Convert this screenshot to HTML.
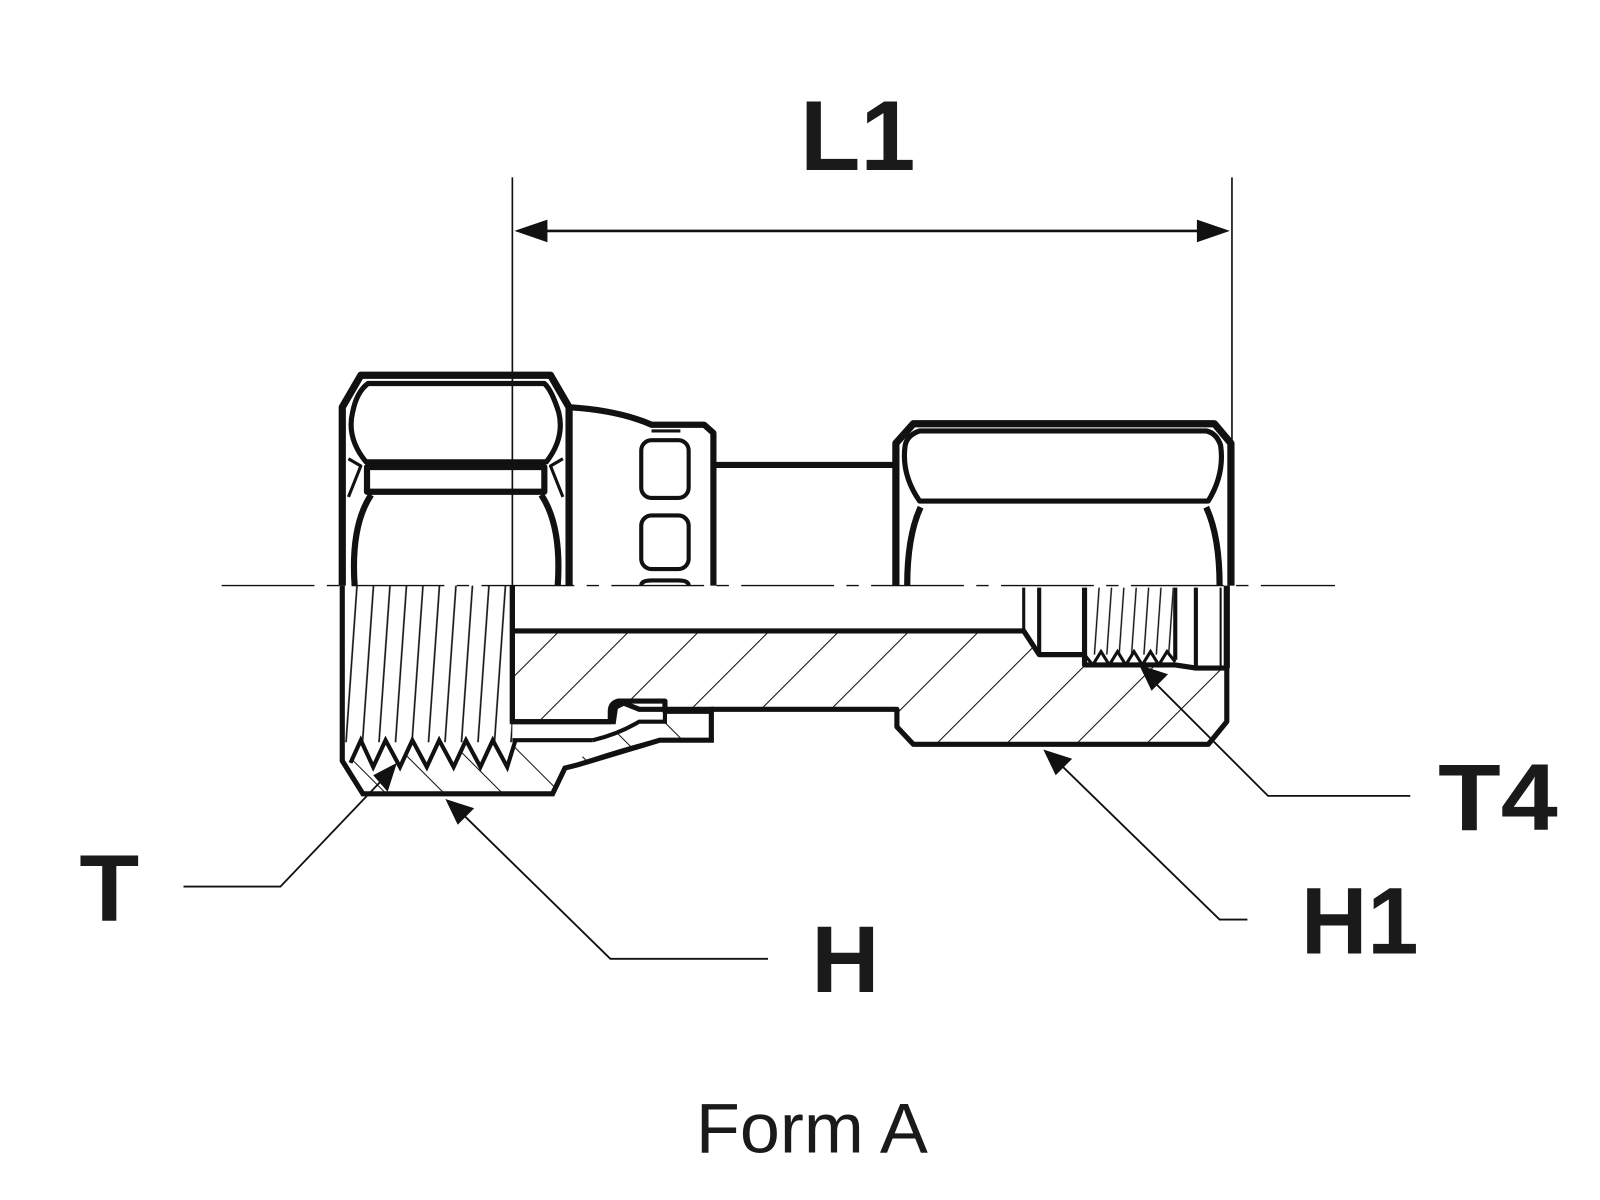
<!DOCTYPE html>
<html><head><meta charset="utf-8"><style>
html,body{margin:0;padding:0;background:#fff;}
svg{display:block;}
</style></head><body>
<svg width="1600" height="1200" viewBox="0 0 1552 1164" xmlns="http://www.w3.org/2000/svg">
<defs>
<pattern id="hatch" patternUnits="userSpaceOnUse" width="48" height="48" patternTransform="rotate(45)">
<line x1="0" y1="0" x2="0" y2="48" stroke="#111" stroke-width="2"/>
</pattern>
<pattern id="hatch2" patternUnits="userSpaceOnUse" width="40" height="40" patternTransform="rotate(-45)">
<line x1="0" y1="0" x2="0" y2="40" stroke="#111" stroke-width="2"/>
</pattern>
<pattern id="thr" patternUnits="userSpaceOnUse" width="16" height="200" patternTransform="skewX(-4)">
<line x1="2" y1="0" x2="2" y2="200" stroke="#111" stroke-width="1.6"/>
</pattern>
<pattern id="thr2" patternUnits="userSpaceOnUse" width="12" height="200" patternTransform="skewX(-4)">
<line x1="2" y1="0" x2="2" y2="200" stroke="#111" stroke-width="1.4"/>
</pattern>
</defs>
<rect width="1552" height="1164" fill="#fff"/>

<text x="832" y="165" font-family="Liberation Sans, sans-serif" font-weight="bold" font-size="96" text-anchor="middle" fill="#1a1a1a">L1</text>
<line x1="497" y1="172" x2="497" y2="568" stroke="#111" stroke-width="1.6"/>
<line x1="1195" y1="172" x2="1195" y2="568" stroke="#111" stroke-width="1.6"/>
<line x1="520" y1="224" x2="1172" y2="224" stroke="#111" stroke-width="2.5"/>
<polygon points="499,224 531,213 531,235" fill="#111"/>
<polygon points="1193,224 1161,213 1161,235" fill="#111"/>

<line x1="215" y1="568" x2="1295" y2="568" stroke="#111" stroke-width="1.4" stroke-dasharray="90,12,12,12"/>

<g fill="none" stroke="#111" stroke-linejoin="round">
<path d="M332,568 L332,395 L350,364 L534,364 L552,395 L552,568" stroke-width="7"/>
<path d="M342,400 Q336,425 355,448 L530,448 Q548,425 542,400 Q535,378 528,372 L357,372 Q346,380 342,400 Z" stroke-width="5"/>
<rect x="356" y="453" width="172" height="24" stroke-width="6"/>
<path d="M344,568 Q340,510 360,480" stroke-width="6"/>
<path d="M541,568 Q545,510 525,480" stroke-width="6"/>
<path d="M338,445 L350,452 L338,482" stroke-width="3"/>
<path d="M546,445 L534,452 L546,482" stroke-width="3"/>
<path d="M552,395 Q600,398 632,412 L683,412 L692,420 L692,568" stroke-width="6"/>
<line x1="692" y1="451" x2="868" y2="451" stroke-width="6"/>
<rect x="622" y="427" width="46" height="56" rx="10" stroke-width="4"/>
<rect x="622" y="500" width="46" height="52" rx="10" stroke-width="4"/>
<path d="M622,568 Q622,563 632,563 L658,563 Q668,563 668,568" stroke-width="4"/>
<line x1="632" y1="418" x2="660" y2="418" stroke-width="3"/>
<path d="M869,568 L869,430 L886,411 L1178,411 L1194,430 L1194,568" stroke-width="7"/>
<path d="M878,432 Q874,460 892,486 L1172,486 Q1188,460 1184,432 Q1180,420 1170,418 L892,418 Q880,422 878,432 Z" stroke-width="5"/>
<path d="M880,568 Q880,520 893,492" stroke-width="6"/>
<path d="M1183,568 Q1183,520 1170,492" stroke-width="6"/>
</g>

<path d="M332,568 L497,568 L497,720 L332,720 Z" fill="url(#thr)"/>
<path d="M332,568 L332,738 L352,770 L536,770 L548,745 L560,742 Q600,730 640,718 L690,718 L690,688 L620,688 L605,682 L597,686 L595,700 L497,700 L497,568" fill="none" stroke="#111" stroke-width="5"/>
<path d="M340,735 L352,720 L360,740 L372,718 L386,742 L400,718 L412,742 L426,718 L440,742 L454,718 L468,742 L482,718 L497,735 L497,718 L548,720 L560,742 L536,770 L352,770 Z" fill="url(#hatch2)"/>
<polyline points="340,740 350,718 362,744 374,718 388,744 400,718 414,744 426,718 440,744 452,718 466,744 478,718 492,744 500,718" fill="none" stroke="#111" stroke-width="4"/>
<line x1="497" y1="718" x2="575" y2="718" stroke="#111" stroke-width="4"/>
<path d="M575,718 Q600,712 620,700 L645,700 L645,690 L690,690 L690,718 L640,718 Q600,728 560,742" fill="url(#hatch2)" stroke="#111" stroke-width="4"/>
<path d="M497,612 L993,612 L1008,635 L1052,635 L1052,645 L1140,645 L1160,648 L1190,648 L1190,700 L1172,722 L886,722 L870,705 L870,688 L690,688 L690,690 L645,690 L645,680 L600,680 Q592,682 592,690 L592,700 L497,700 Z" fill="url(#hatch)" stroke="#111" stroke-width="5" stroke-linejoin="round"/>
<line x1="497" y1="568" x2="497" y2="612" stroke="#111" stroke-width="5"/>
<g stroke="#111" fill="none">
<path d="M993,612 L993,570" stroke-width="3"/>
<path d="M1008,635 L1008,570" stroke-width="4"/>
<path d="M1052,570 L1052,635" stroke-width="5"/>
<rect x="1056" y="570" width="82" height="65" fill="url(#thr2)" stroke="none"/>
<polyline points="1052,635 1060,645 1068,632 1076,645 1084,632 1092,645 1100,632 1108,645 1116,632 1124,645 1132,632 1140,642" stroke-width="3"/>
<path d="M1140,570 L1140,640" stroke-width="4"/>
<path d="M1160,570 L1160,648" stroke-width="4"/>
<path d="M1184,570 L1184,648" stroke-width="2"/>
<path d="M1190,568 L1190,648" stroke-width="6"/>
</g>

<g stroke="#111" stroke-width="1.8" fill="none">
<polyline points="178,860 272,860 375,752"/>
<polyline points="745,930 592,930 445,786"/>
<polyline points="1210,892 1183,892 1025,738"/>
<polyline points="1368,772 1230,772 1118,660"/>
</g>
<g fill="#111">
<polygon points="385,740 376,768 362,752"/>
<polygon points="432,775 460,784 444,800"/>
<polygon points="1012,727 1040,736 1024,752"/>
<polygon points="1105,645 1133,654 1117,670"/>
</g>

<g font-family="Liberation Sans, sans-serif" font-weight="bold" fill="#1a1a1a">
<text x="77" y="893" font-size="92" textLength="58" lengthAdjust="spacingAndGlyphs">T</text>
<text x="787" y="962" font-size="92" textLength="66" lengthAdjust="spacingAndGlyphs">H</text>
<text x="1262" y="925" font-size="92" textLength="114" lengthAdjust="spacingAndGlyphs">H1</text>
<text x="1395" y="805" font-size="92" textLength="116" lengthAdjust="spacingAndGlyphs">T4</text>
</g>
<text x="675" y="1118" font-family="Liberation Sans, sans-serif" font-size="68" fill="#1a1a1a" textLength="225" lengthAdjust="spacingAndGlyphs">Form A</text>
</svg>
</body></html>
